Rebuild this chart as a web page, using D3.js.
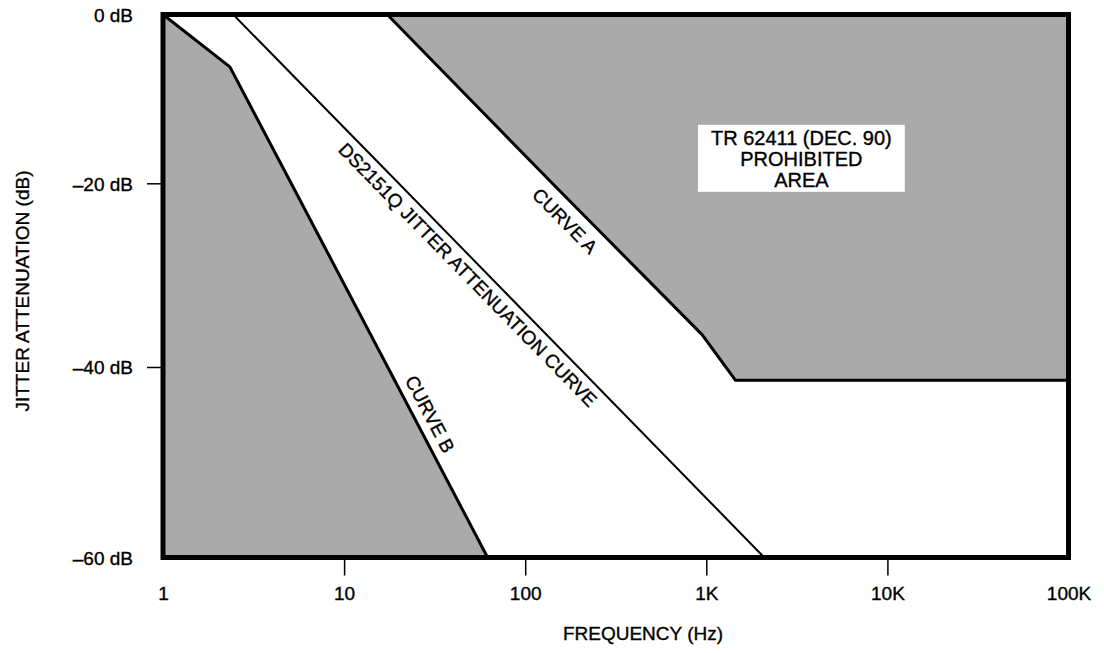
<!DOCTYPE html>
<html><head><meta charset="utf-8">
<script src="https://cdn.jsdelivr.net/npm/d3@7"></script>
<style>
body{margin:0;background:#fff}
svg text{font-family:"Liberation Sans",Arial,Helvetica,sans-serif;fill:#000;stroke:#000;stroke-width:0.35px}
</style>
</head><body>
<svg id="chart" width="1104" height="653"></svg>
<script>
// ---- data ----
const freqTicks = [1, 10, 100, 1000, 10000, 100000];
const freqTickLabels = ["1", "10", "100", "1K", "10K", "100K"];
const dbTicks = [0, -20, -40, -60];
const dbTickLabels = ["0 dB", "\u201320 dB", "\u201340 dB", "\u201360 dB"];

const curveAFreq = [17.3, 141, 950, 1450, 100000];
const curveADb   = [0, -20, -36.5, -41.4, -41.4];

const curveBFreq = [1, 2.34, 5.1, 17.4, 62];
const curveBDb   = [0, -6.2, -20, -40, -60];

const dsFreq = [2.44, 20, 196, 2090];
const dsDb   = [0, -20, -40, -60];

const curveLabels = ["CURVE A", "CURVE B", "DS2151Q JITTER ATTENUATION CURVE"];
const curveLabelFreq = [194, 25, 55];
const areaLabel = ["TR 62411 (DEC. 90)", "PROHIBITED", "AREA"];
const xTitle = "FREQUENCY (Hz)";
const yTitle = "JITTER ATTENUATION (dB)";

// ---- scales ----
const svg = d3.select("#chart");
const x = d3.scaleLog().domain([1, 100000]).range([163, 1068.5]);
const y = d3.scaleLinear().domain([0, -20, -40, -60]).range([14.5, 183.3, 367, 557.5]);
const GRAY = "#aaaaaa";

const pts = (fs, ds) => fs.map((f, i) => [f, ds[i]]);
const line = d3.line().x(d => x(d[0])).y(d => y(d[1]));

const A = pts(curveAFreq, curveADb);
const B = pts(curveBFreq, curveBDb);
const DS = pts(dsFreq, dsDb);

// shaded prohibited regions
const regionB = B.concat([[curveBFreq[0], dbTicks[dbTicks.length - 1]]]);
const regionA = A.concat([[freqTicks[freqTicks.length - 1], dbTicks[0]]]);
svg.append("path").attr("d", line(regionB) + "Z").attr("fill", GRAY);
svg.append("path").attr("d", line(regionA) + "Z").attr("fill", GRAY);

// curve edges
svg.append("path").attr("d", line(A)).attr("fill", "none").attr("stroke", "#000").attr("stroke-width", 3).attr("stroke-linejoin", "round");
svg.append("path").attr("d", line(B)).attr("fill", "none").attr("stroke", "#000").attr("stroke-width", 3).attr("stroke-linejoin", "round");
svg.append("path").attr("d", line(DS)).attr("fill", "none").attr("stroke", "#000").attr("stroke-width", 2);

// frame
const [x0, x1] = x.range();
const y0 = y(0), y1 = y(-60);
svg.append("rect").attr("x", x0).attr("y", y0).attr("width", x1 - x0).attr("height", y1 - y0)
  .attr("fill", "none").attr("stroke", "#000").attr("stroke-width", 5);

// axes
const xAxis = svg.append("g").attr("transform", `translate(0,${y1})`)
  .call(d3.axisBottom(x).tickValues(freqTicks).tickFormat((d, i) => freqTickLabels[i]).tickSize(18).tickPadding(10));
xAxis.select(".domain").remove();
xAxis.selectAll(".tick line").attr("stroke", "#000").attr("stroke-width", 1.5)
  .attr("y1", 2)
  .filter(d => d === freqTicks[0] || d === freqTicks[freqTicks.length - 1]).remove();
xAxis.selectAll(".tick text").attr("y", 42).attr("dy", 0).attr("font-size", 19).attr("font-family", null).attr("fill", null);

const yAxis = svg.append("g").attr("transform", `translate(${x0},0)`)
  .call(d3.axisLeft(y).tickValues(dbTicks).tickFormat((d, i) => dbTickLabels[i]).tickSize(16).tickPadding(14));
yAxis.select(".domain").remove();
yAxis.selectAll(".tick line").attr("stroke", "#000").attr("stroke-width", 1.5)
  .filter(d => d === dbTicks[0] || d === dbTicks[dbTicks.length - 1]).remove();
yAxis.selectAll(".tick text").attr("font-size", 19).attr("font-family", null).attr("fill", null).attr("dy", "0.36em");

// axis titles
svg.append("text").attr("x", 643).attr("y", 640).attr("text-anchor", "middle")
  .attr("font-size", 19).text(xTitle);
svg.append("text").attr("transform", "translate(29,291) rotate(-90)").attr("text-anchor", "middle")
  .attr("font-size", 19).text(yTitle);

// curve labels placed on their curves
function onCurve(fs, ds, f) {
  let i = 0;
  while (i < fs.length - 2 && f > fs[i + 1]) i++;
  const xa = x(fs[i]), xb = x(fs[i + 1]), ya = y(ds[i]), yb = y(ds[i + 1]);
  const px = x(f), t = (px - xa) / (xb - xa);
  return { px, py: ya + t * (yb - ya), ang: Math.atan2(yb - ya, xb - xa) * 180 / Math.PI };
}
const labelCurves = [[curveAFreq, curveADb, 24], [curveBFreq, curveBDb, -9], [dsFreq, dsDb, 21]];
labelCurves.forEach(([fs, ds, off], k) => {
  const p = onCurve(fs, ds, curveLabelFreq[k]);
  svg.append("text")
    .attr("transform", `translate(${p.px},${p.py}) rotate(${p.ang})`)
    .attr("y", off).attr("text-anchor", "middle").attr("font-size", 19)
    .text(curveLabels[k]);
});

// prohibited area label box
const boxG = svg.append("g");
const bx = x(3350), by = y(-17.1);
const lineGap = 21;
const tx = boxG.append("text").attr("text-anchor", "middle").attr("font-size", 20);
areaLabel.forEach((s, i) => {
  tx.append("tspan").attr("x", bx).attr("y", by + (i - 1) * lineGap + 7).text(s);
});
const bb = tx.node().getBBox();
boxG.insert("rect", "text")
  .attr("x", bb.x - 13).attr("y", bb.y - 2)
  .attr("width", bb.width + 26).attr("height", bb.height + 3)
  .attr("fill", "#fff").attr("stroke", "none");
</script>
</body></html>
